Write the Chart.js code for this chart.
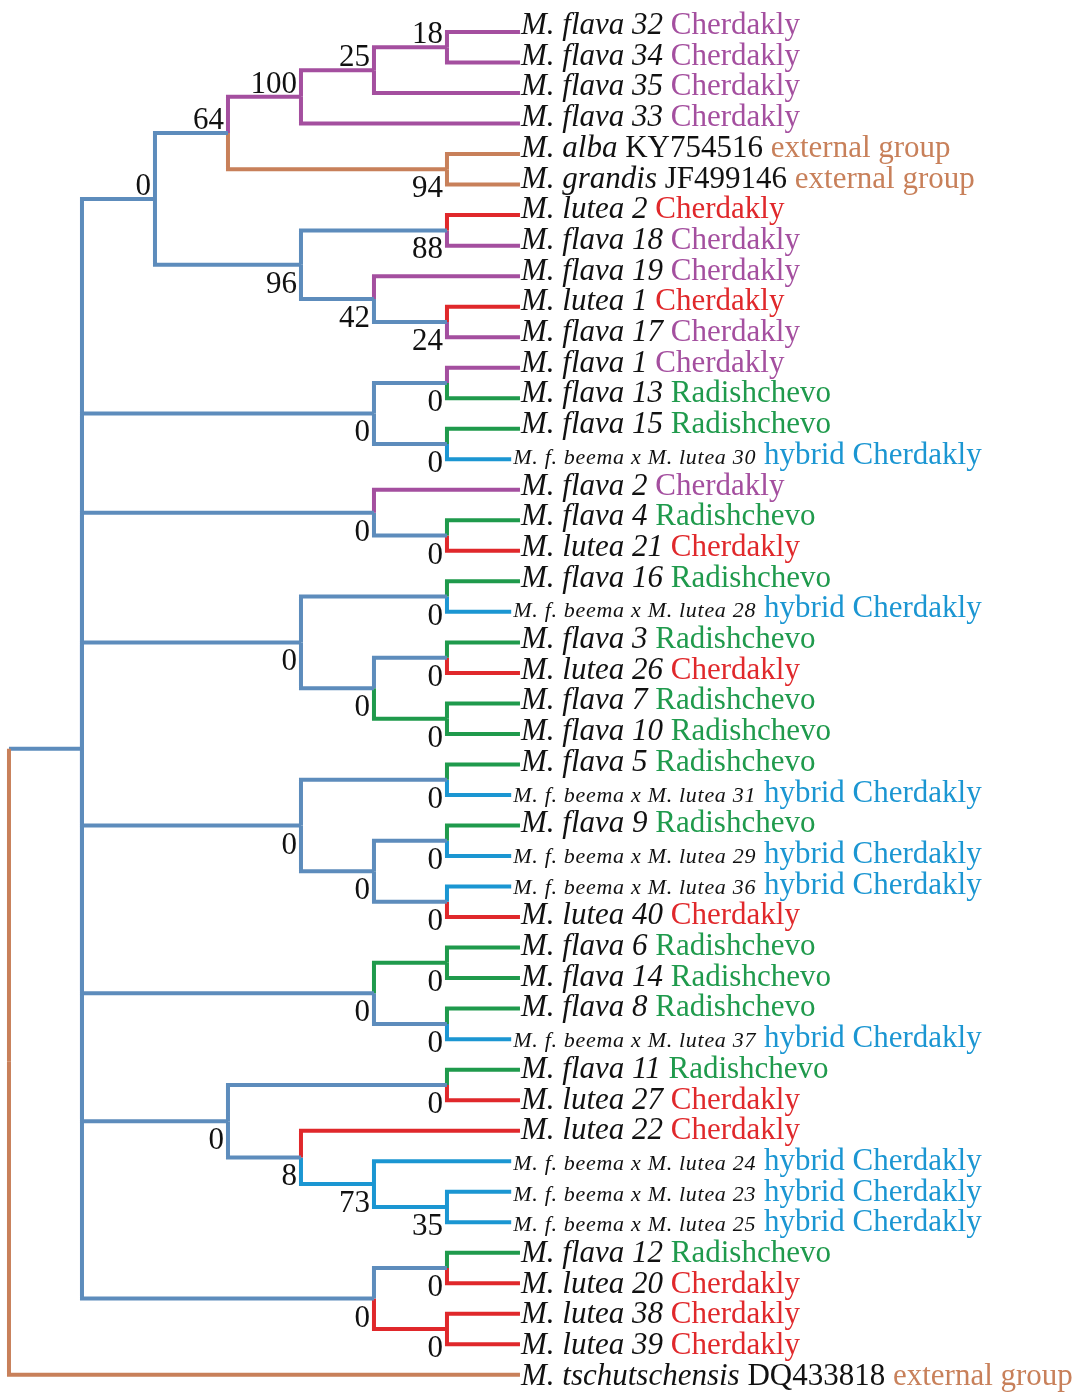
<!DOCTYPE html>
<html>
<head>
<meta charset="utf-8">
<title>Motacilla tree</title>
<script src="https://cdn.jsdelivr.net/npm/chart.js@4.4.1/dist/chart.umd.min.js"></script>
<style>
  html, body { margin: 0; padding: 0; background: #fff; }
  #tree { display: block; }
</style>
</head>
<body>
<canvas id="tree" width="1086" height="1395"></canvas>
<script>
// leaves, top to bottom (y value = position in this list)
const leafNames = [
  'M. flava 32', 'M. flava 34', 'M. flava 35', 'M. flava 33', 'M. alba', 'M. grandis',
  'M. lutea 2', 'M. flava 18', 'M. flava 19', 'M. lutea 1', 'M. flava 17',
  'M. flava 1', 'M. flava 13', 'M. flava 15', 'M. f. beema x M. lutea 30',
  'M. flava 2', 'M. flava 4', 'M. lutea 21',
  'M. flava 16', 'M. f. beema x M. lutea 28', 'M. flava 3', 'M. lutea 26', 'M. flava 7', 'M. flava 10',
  'M. flava 5', 'M. f. beema x M. lutea 31', 'M. flava 9', 'M. f. beema x M. lutea 29', 'M. f. beema x M. lutea 36', 'M. lutea 40',
  'M. flava 6', 'M. flava 14', 'M. flava 8', 'M. f. beema x M. lutea 37',
  'M. flava 11', 'M. lutea 27', 'M. lutea 22', 'M. f. beema x M. lutea 24', 'M. f. beema x M. lutea 23', 'M. f. beema x M. lutea 25',
  'M. flava 12', 'M. lutea 20', 'M. lutea 38', 'M. lutea 39', 'M. tschutschensis'
];
const leafCodes = [
  '', '', '', '', 'KY754516', 'JF499146', '', '', '', '', '', '', '', '', '',
  '', '', '', '', '', '', '', '', '', '', '', '', '', '', '',
  '', '', '', '', '', '', '', '', '', '', '', '', '', '', 'DQ433818'
];
// P = M. flava Cherdakly, R = M. lutea Cherdakly, G = Radishchevo, H = hybrid, O = external group
const leafGroups = [
  'P', 'P', 'P', 'P', 'O', 'O', 'R', 'P', 'P', 'R', 'P', 'P', 'G', 'G', 'H',
  'P', 'G', 'R', 'G', 'H', 'G', 'R', 'G', 'G', 'G', 'H', 'G', 'H', 'H', 'R',
  'G', 'G', 'G', 'H', 'G', 'R', 'R', 'H', 'H', 'H', 'G', 'R', 'R', 'R', 'O'
];
const groupSites = { P: 'Cherdakly', R: 'Cherdakly', G: 'Radishchevo', H: 'hybrid Cherdakly', O: 'external group' };

// internal nodes: depth level, children (leaf index or node name), bootstrap support
const nodeNames = ['root', 'main', 'cA', 'n64', 'n100', 'n25', 'n18', 'n94', 'n96', 'n88', 'n42', 'n24',
  'cB', 'b1', 'b2', 'cC', 'c1', 'cD', 'd1', 'd2', 'd3', 'd4',
  'cE', 'e1', 'e2', 'e3', 'e4', 'cF', 'f1', 'f2',
  'cG', 'g1', 'g2', 'g3', 'g4', 'cH', 'h1', 'h2'];
const nodeDepth = [0, 1, 2, 3, 4, 5, 6, 6, 4, 6, 5, 6,
  5, 6, 6, 5, 6, 4, 6, 5, 6, 6,
  4, 6, 5, 6, 6, 5, 6, 6,
  3, 6, 4, 5, 6, 5, 6, 6];
const nodeKids = [
  ['main', 44], ['cA', 'cB', 'cC', 'cD', 'cE', 'cF', 'cG', 'cH'], ['n64', 'n96'], ['n100', 'n94'],
  ['n25', 3], ['n18', 2], [0, 1], [4, 5], ['n88', 'n42'], [6, 7], [8, 'n24'], [9, 10],
  ['b1', 'b2'], [11, 12], [13, 14], [15, 'c1'], [16, 17], ['d1', 'd2'], [18, 19], ['d3', 'd4'], [20, 21], [22, 23],
  ['e1', 'e2'], [24, 25], ['e3', 'e4'], [26, 27], [28, 29], ['f1', 'f2'], [30, 31], [32, 33],
  ['g1', 'g2'], [34, 35], [36, 'g3'], [37, 'g4'], [38, 39], ['h1', 'h2'], [40, 41], [42, 43]
];
const nodeSupport = [null, null, 0, 64, 100, 25, 18, 94, 96, 88, 42, 24,
  0, 0, 0, 0, 0, 0, 0, 0, 0, 0,
  0, 0, 0, 0, 0, 0, 0, 0,
  0, 0, 8, 73, 35, 0, 0, 0];
// colour group of the branch leading into each node (B = backbone)
const nodeBranch = ['', 'B', 'B', 'B', 'P', 'P', 'P', 'O', 'B', 'B', 'B', 'B',
  'B', 'B', 'B', 'B', 'B', 'B', 'B', 'B', 'B', 'G',
  'B', 'B', 'B', 'B', 'B', 'B', 'G', 'B',
  'B', 'B', 'B', 'H', 'H', 'B', 'B', 'R'];
const rootStem = 'O';
const supportAbove = ['cA', 'n64', 'n100', 'n25', 'n18'];

const groupColors = { P: '#a44f9f', R: '#e0282b', G: '#1f9a4c', H: '#1b96d2', O: '#c8805a', B: '#5d8cbc' };
const leafTip = 7;
const hybridTip = 6.88;
const serif = '"Liberation Serif", "Times New Roman", serif';

const idx = {};
nodeNames.forEach((n, i) => { idx[n] = i; });
const isLeaf = k => typeof k === 'number';
function yOf(k) {
  if (isLeaf(k)) return k;
  const kids = nodeKids[idx[k]];
  return (yOf(kids[0]) + yOf(kids[kids.length - 1])) / 2;
}
function xOf(k) {
  if (isLeaf(k)) return leafGroups[k] === 'H' ? hybridTip : leafTip;
  return nodeDepth[idx[k]];
}
function groupOf(k) {
  return isLeaf(k) ? leafGroups[k] : nodeBranch[idx[k]];
}

// one elbow (stem + branch) per parent/child pair
const datasets = [];
function addLine(points, color) {
  datasets.push({
    data: points,
    showLine: true,
    borderColor: color,
    borderWidth: 4,
    pointRadius: 0,
    tension: 0,
    fill: false,
    clip: false,
    borderJoinStyle: 'miter',
    borderCapStyle: 'butt'
  });
}
nodeNames.forEach((name, i) => {
  const px = nodeDepth[i];
  const py = yOf(name);
  nodeKids[i].forEach(kid => {
    const cx = xOf(kid);
    const cy = yOf(kid);
    const col = groupColors[groupOf(kid)];
    const stem = name === 'root' ? groupColors[rootStem] : col;
    if (stem === col) {
      addLine([{ x: px, y: py }, { x: px, y: cy }, { x: cx, y: cy }], col);
    } else {
      addLine([{ x: px, y: py }, { x: px, y: cy }], stem);
      addLine([{ x: px, y: cy }, { x: cx, y: cy }], col);
    }
  });
});

const labelPlugin = {
  id: 'treeLabels',
  afterDatasetsDraw(chart) {
    const { ctx, scales: { x, y } } = chart;
    ctx.save();
    ctx.textBaseline = 'alphabetic';
    ctx.textAlign = 'left';

    // leaf labels
    leafNames.forEach((name, i) => {
      const g = leafGroups[i];
      let px = x.getPixelForValue(xOf(i)) + (g === 'H' ? 2 : 1);
      const py = y.getPixelForValue(i) + 2 + 8 * i / (leafNames.length - 1);

      ctx.fillStyle = '#111';
      if (g === 'H') {
        ctx.font = 'italic 22px ' + serif;
        ctx.letterSpacing = '0.7px';
      } else {
        ctx.font = 'italic 31px ' + serif;
        ctx.letterSpacing = '0px';
      }
      ctx.fillText(name, px, py);
      px += ctx.measureText(name).width;
      ctx.letterSpacing = '0px';
      ctx.font = '31px ' + serif;
      px += ctx.measureText(' ').width;

      if (leafCodes[i]) {
        ctx.fillText(leafCodes[i], px, py);
        px += ctx.measureText(leafCodes[i] + ' ').width;
      }
      ctx.fillStyle = groupColors[g];
      ctx.fillText(groupSites[g], px, py);
    });

    // bootstrap values
    ctx.font = '31px ' + serif;
    ctx.textAlign = 'right';
    ctx.fillStyle = '#111';
    nodeNames.forEach((name, i) => {
      if (nodeSupport[i] === null) return;
      const px = x.getPixelForValue(nodeDepth[i]) - 4;
      const py = y.getPixelForValue(yOf(name));
      const above = supportAbove.includes(name);
      ctx.fillText(String(nodeSupport[i]), px, above ? py - 4 : py + 28);
    });
    ctx.restore();
  }
};

new Chart(document.getElementById('tree'), {
  type: 'scatter',
  data: { datasets: datasets },
  options: {
    responsive: false,
    animation: false,
    devicePixelRatio: 1,
    events: [],
    layout: { padding: 0 },
    scales: {
      x: { type: 'linear', display: false, min: -0.123, max: 14.754 },
      y: { type: 'linear', display: false, reverse: true, min: -1.0485, max: 44.66 }
    },
    plugins: {
      legend: { display: false },
      tooltip: { enabled: false }
    }
  },
  plugins: [labelPlugin]
});
</script>
</body>
</html>
